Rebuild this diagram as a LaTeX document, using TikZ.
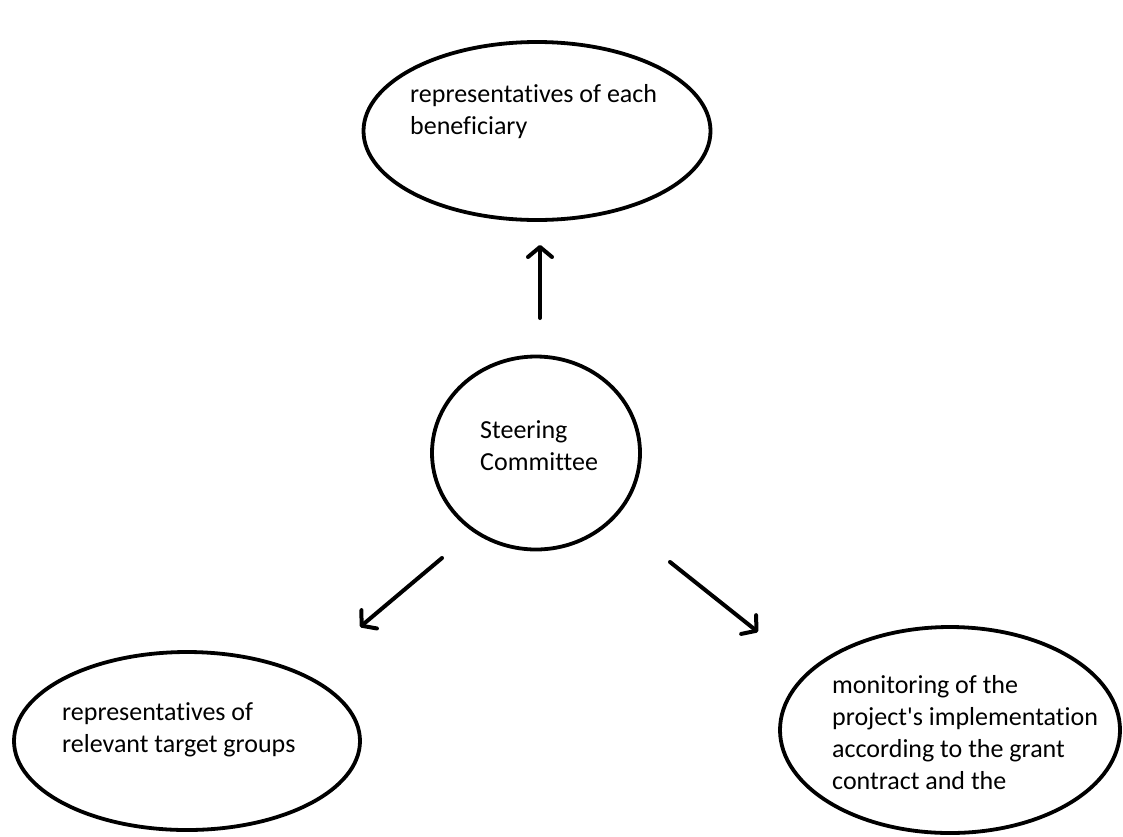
\documentclass[tikz,border=0pt]{standalone}
\usepackage{fontspec}
\setmainfont{Carlito}[Ligatures={NoCommon}]
\usepackage{tikz}
\usetikzlibrary{shapes.geometric,arrows.meta}

\tikzset{
  bubble/.style={draw,ellipse,line width=3.8pt,inner sep=0pt},
  blurb/.style={anchor=base west,align=left,inner sep=0pt,
    font=\fontsize{26}{32}\selectfont},
  pointer/.style={line width=4pt,line cap=round,
    -{Straight Barb[length=10pt,width=24pt,line cap=round,line join=round]}}
}

\begin{document}
\begin{tikzpicture}[x=1pt,y=-1pt]
  \useasboundingbox (0,0) rectangle (1123,836);

  % the four bubbles
  \node[bubble,minimum width=347pt,minimum height=178pt] (benef) at (537,131) {};
  \node[bubble,minimum width=208pt,minimum height=193pt] (steer) at (536,453) {};
  \node[bubble,minimum width=346pt,minimum height=178pt] (groups) at (187,741) {};
  \node[bubble,minimum width=340pt,minimum height=206pt] (monit) at (950,730) {};

  % texts (placed at the baseline of their last line)
  \node[blurb] (benef txt) at (410,134) {representatives of each\\beneficiary};
  \node[blurb] (steer txt) at (480,470) {Steering\\Committee};
  \node[blurb] (groups txt) at (62,752) {representatives of\\relevant target groups};
  \node[blurb] (monit txt) at (832,789) {monitoring of the\\project\textquotesingle s implementation\\according to the grant\\contract and the};

  % arrows
  \coordinate (up a) at (540,318);
  \coordinate (up b) at (540,245);
  \coordinate (left a) at (442,558);
  \coordinate (left b) at (360,627);
  \coordinate (right a) at (670,562);
  \coordinate (right b) at (758,632);
  \draw[pointer] (up a) -- (up b);
  \draw[pointer] (left a) -- (left b);
  \draw[pointer] (right a) -- (right b);
\end{tikzpicture}
\end{document}
